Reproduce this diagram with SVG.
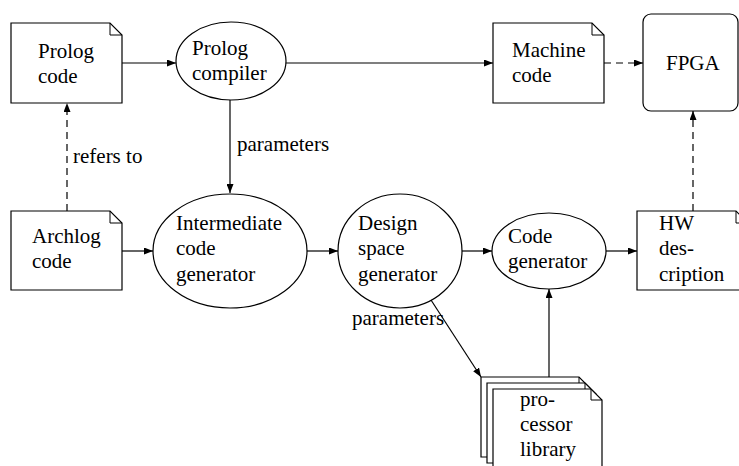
<svg xmlns="http://www.w3.org/2000/svg" width="739" height="466" viewBox="0 0 739 466">
<style>
.shape{fill:#fff;stroke:#000;stroke-width:1.2}
.fold{fill:none;stroke:#000;stroke-width:1}
.edge{fill:none;stroke:#000;stroke-width:1.2}
.dash{stroke-dasharray:7 5}
text{font-family:'Liberation Serif','Times New Roman',serif;font-size:21px;fill:#000}
</style>
<defs>
<marker id="ah" markerWidth="9" markerHeight="7" refX="9" refY="3.5" orient="auto" markerUnits="userSpaceOnUse">
<path d="M0,0 L9,3.5 L0,7 z" fill="#000"/>
</marker>
</defs>
<rect width="739" height="466" fill="#fff"/>
<g id="connectors">
<path class="edge" d="M122,63 L176,63" marker-end="url(#ah)"/>
<path class="edge" d="M286,63 L493,63" marker-end="url(#ah)"/>
<path class="edge dash" d="M604,63 L643,63" marker-end="url(#ah)"/>
<path class="edge dash" d="M67,211 L67,103" marker-end="url(#ah)"/>
<path class="edge" d="M230,100 L230,193" marker-end="url(#ah)"/>
<path class="edge" d="M122,251 L153,251" marker-end="url(#ah)"/>
<path class="edge" d="M307,251 L338,251" marker-end="url(#ah)"/>
<path class="edge" d="M461,251 L492,251" marker-end="url(#ah)"/>
<path class="edge" d="M606,251 L637,251" marker-end="url(#ah)"/>
<path class="edge dash" d="M693,211 L693,111" marker-end="url(#ah)"/>
<path class="edge" d="M431,300 L481,377" marker-end="url(#ah)"/>
<path class="edge" d="M549,377 L549,289" marker-end="url(#ah)"/>
<text x="73" y="163">refers to</text>
<text x="237" y="151">parameters</text>
<text x="352" y="325">parameters</text>
</g>
<g id="prolog-code">
<path class="shape" d="M11,23 H110 L122,35 V103 H11 Z"/>
<path class="fold" d="M110,23 V35 H122"/>
<text x="38" y="58">Prolog</text>
<text x="38" y="83">code</text>
</g>
<g id="prolog-compiler">
<ellipse class="shape" cx="231" cy="61" rx="55" ry="39"/>
<text x="192" y="55">Prolog</text>
<text x="192" y="80">compiler</text>
</g>
<g id="machine-code">
<path class="shape" d="M493,23 H592 L604,35 V103 H493 Z"/>
<path class="fold" d="M592,23 V35 H604"/>
<text x="512" y="57">Machine</text>
<text x="512" y="82">code</text>
</g>
<g id="fpga">
<rect class="shape" x="643" y="14" width="95" height="97" rx="8"/>
<text x="666" y="70">FPGA</text>
</g>
<g id="archlog-code">
<path class="shape" d="M11,211 H110 L122,223 V290 H11 Z"/>
<path class="fold" d="M110,211 V223 H122"/>
<text x="32" y="243">Archlog</text>
<text x="32" y="268">code</text>
</g>
<g id="intermediate">
<ellipse class="shape" cx="230" cy="251" rx="77" ry="57"/>
<text x="176" y="230">Intermediate</text>
<text x="176" y="255">code</text>
<text x="176" y="281">generator</text>
</g>
<g id="design-space">
<ellipse class="shape" cx="400" cy="251" rx="62" ry="57"/>
<text x="358" y="230">Design</text>
<text x="358" y="255">space</text>
<text x="358" y="281">generator</text>
</g>
<g id="code-generator">
<ellipse class="shape" cx="549" cy="251" rx="57" ry="38"/>
<text x="508" y="243">Code</text>
<text x="508" y="268">generator</text>
</g>
<g id="hw-description">
<path class="shape" d="M637,211 H736 L748,223 V290 H637 Z"/>
<path class="fold" d="M736,211 V223 H748"/>
<text x="659" y="230">HW</text>
<text x="659" y="255">des-</text>
<text x="659" y="281">cription</text>
</g>
<g id="processor-library">
<path class="shape" d="M481,377 H579 L590,388 V457 H481 Z"/>
<path class="fold" d="M579,377 V388 H590"/>
<path class="shape" d="M487,383 H585 L596,394 V463 H487 Z"/>
<path class="fold" d="M585,383 V394 H596"/>
<path class="shape" d="M493,389 H591 L602,400 V469 H493 Z"/>
<path class="fold" d="M591,389 V400 H602"/>
<text x="520" y="406">pro-</text>
<text x="520" y="431">cessor</text>
<text x="520" y="456">library</text>
</g>
</svg>
